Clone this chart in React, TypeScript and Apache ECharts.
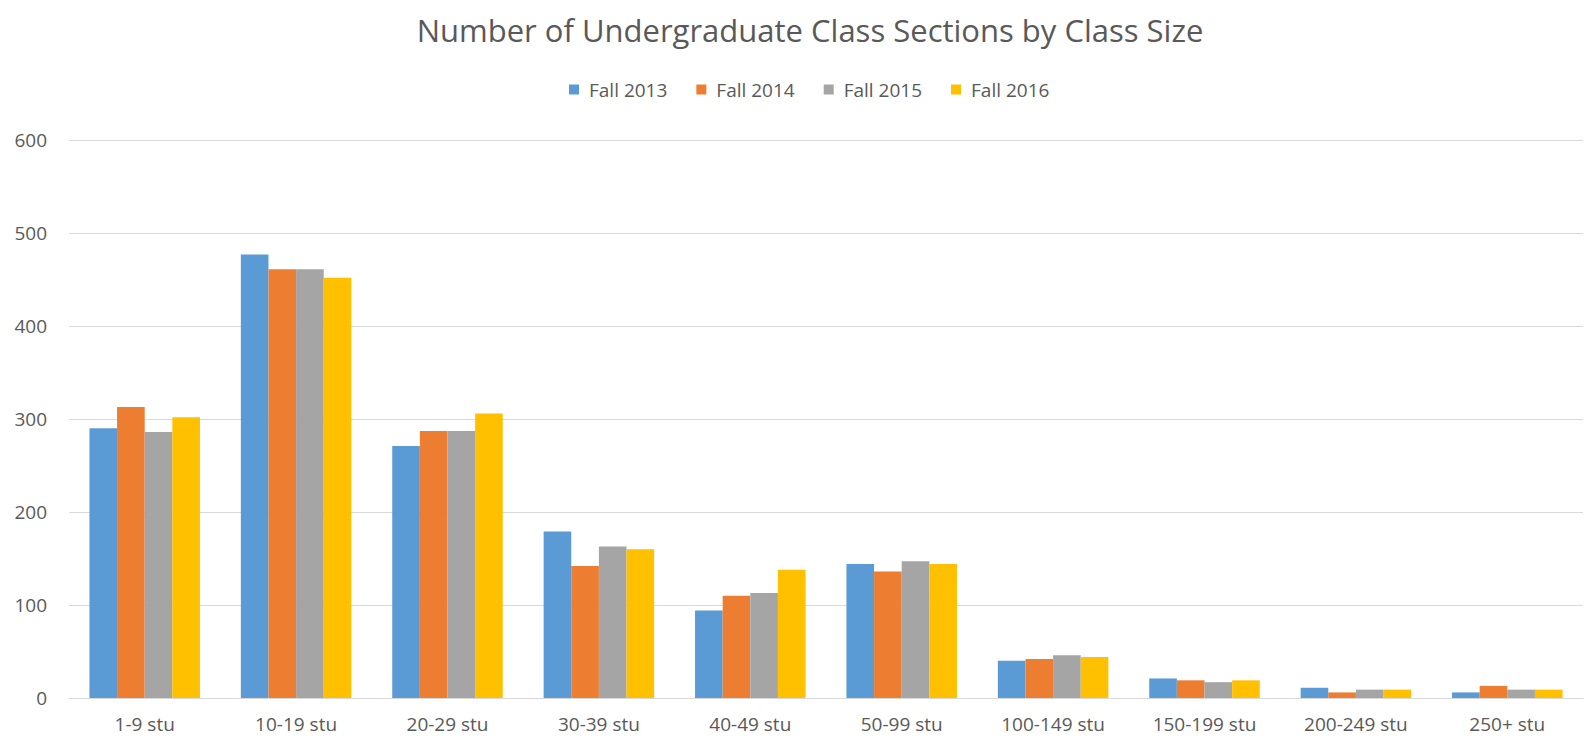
import React, { useEffect, useRef } from "react";
import * as echarts from "echarts";

const categories = ["1-9 stu", "10-19 stu", "20-29 stu", "30-39 stu", "40-49 stu", "50-99 stu", "100-149 stu", "150-199 stu", "200-249 stu", "250+ stu"];
const fall2013 = [290, 477, 271, 179, 94, 144, 40, 21, 11, 6];
const fall2014 = [313, 461, 287, 142, 110, 136, 42, 19, 6, 13];
const fall2015 = [286, 461, 287, 163, 113, 147, 46, 17, 9, 9];
const fall2016 = [302, 452, 306, 160, 138, 144, 44, 19, 9, 9];
const seriesNames = ["Fall 2013", "Fall 2014", "Fall 2015", "Fall 2016"];
const colors = ["#5B9BD5", "#ED7D31", "#A5A5A5", "#FFC000"];

export default function App() {
  const ref = useRef<HTMLDivElement>(null);
  useEffect(() => {
    document.body.style.margin = "0";
    const chart = echarts.init(ref.current!, null, { renderer: "svg" });
    const data = [fall2013, fall2014, fall2015, fall2016];
    chart.setOption({
      animation: false,
      backgroundColor: "#ffffff",
      color: colors,
      title: {
        text: "Number of Undergraduate Class Sections by Class Size",
        left: 805,
        textAlign: "center",
        top: 9,
        textStyle: { fontFamily: "Open Sans", fontSize: 31, fontWeight: "normal", color: "#595959" },
      },
      legend: {
        top: 75,
        left: 564,
        itemWidth: 10,
        itemHeight: 10,
        itemGap: 29,
        icon: "rect",
        textStyle: { fontFamily: "Open Sans", fontSize: 19, color: "#595959", padding: [0, 0, 0, 5] },
        data: seriesNames,
      },
      grid: { left: 69, right: 3, top: 140, bottom: 45 },
      xAxis: {
        type: "category",
        data: categories,
        axisLine: { lineStyle: { color: "#d9d9d9" } },
        axisTick: { show: false },
        axisLabel: { fontFamily: "Open Sans", fontSize: 19, color: "#595959", margin: 16 },
      },
      yAxis: {
        type: "value",
        min: 0,
        max: 600,
        interval: 100,
        splitLine: { lineStyle: { color: "#d9d9d9" } },
        axisLine: { show: false },
        axisTick: { show: false },
        axisLabel: { fontFamily: "Open Sans", fontSize: 19, color: "#595959", margin: 22 },
      },
      series: seriesNames.map((name, i) => ({
        name,
        type: "bar",
        data: data[i],
        barGap: "0%",
        barCategoryGap: "27%",
        itemStyle: { color: colors[i] },
      })),
    });
    return () => chart.dispose();
  }, []);
  return <div ref={ref} style={{ width: 1586, height: 743 }} />;
}
